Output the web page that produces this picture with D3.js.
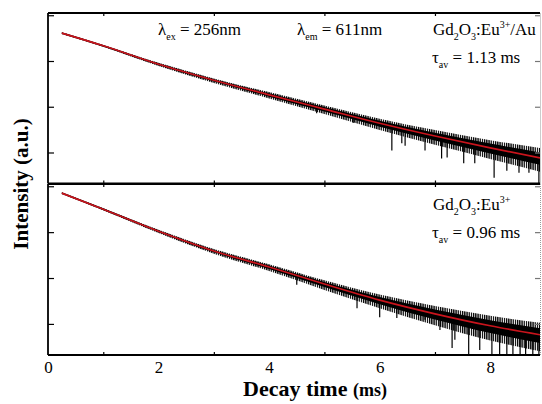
<!DOCTYPE html>
<html>
<head>
<meta charset="utf-8">
<title>Decay curves</title>
<script src="https://d3js.org/d3.v7.min.js"></script>
<style>
	body {margin: 0; background: #fff;}
	text {font-family: "Liberation Serif", "Times New Roman", serif; fill: #000;}
</style>
</head>
<body>
<div id="main"></div>
<script type="text/javascript">
	var screenWidth  = 542;
	var screenHeight = 404;
	var plotLeft  = 48, plotRight = 540;
	var topPanel  = {top: 13,  bottom: 183.5};
	var botPanel  = {top: 184, bottom: 355};

	// time grid (ms) where the fitted curves were read
	var timeMs     = [0.25, 1, 2, 3, 4, 5, 6, 7, 8, 8.9];
	// fitted intensity (a.u.), Gd2O3:Eu3+/Au and Gd2O3:Eu3+
	var fitAu      = [4070, 2150, 850, 380, 182, 89, 43.6, 22.9, 12.6, 7.6];
	var fitBare    = [7080, 3160, 1047, 389, 174, 74, 33, 16.6, 9.1, 5.8];
	// spread of the measured data round the fit, in decades
	var noiseUpAu    = [0.02, 0.02, 0.03, 0.04, 0.06, 0.08, 0.10, 0.13, 0.17, 0.22];
	var noiseDownAu  = [0.02, 0.02, 0.04, 0.06, 0.08, 0.11, 0.15, 0.19, 0.24, 0.30];
	var noiseUpBare  = [0.02, 0.02, 0.03, 0.04, 0.06, 0.08, 0.12, 0.17, 0.22, 0.26];
	var noiseDownBare= [0.02, 0.02, 0.04, 0.06, 0.09, 0.13, 0.18, 0.25, 0.32, 0.36];
	// deep downward spikes of the data: time (ms) and lowest intensity
	var spikeTimeAu  = [4.86, 5.52, 6.22, 6.40, 6.46, 6.82, 7.12, 7.22, 7.52, 7.72, 8.07, 8.30, 8.52, 8.70, 8.88];
	var spikeLowAu   = [72, 44, 11, 16, 14, 11, 7.4, 7.8, 5.8, 5.8, 2.8, 4.0, 3.6, 3.6, 2.1];
	var spikeTimeBare= [4.50, 5.59, 6.00, 6.31, 6.82, 7.09, 7.31, 7.36, 7.61, 7.81, 8.03, 8.17, 8.30, 8.41, 8.54, 8.64, 8.77, 8.88];
	var spikeLowBare = [71, 22, 14, 13.5, 12.3, 7.4, 3.0, 4.5, 2.1, 2.7, 2.1, 2.1, 2.1, 2.1, 2.1, 2.1, 2.1, 2.1];

	var xMajorTicks = [0, 2, 4, 6, 8];
	var xMinorTicks = [1, 3, 5, 7];
	var yDomain     = [2.1, 11200];

	var xScale = d3.scaleLinear().domain([0, 8.9]).range([plotLeft, plotRight]);

	var svg = d3.select("#main").append("svg")
		.attr("width", screenWidth)
		.attr("height", screenHeight);

	var defs = svg.append("defs");
	defs.append("clipPath").attr("id", "clipAll")
		.append("rect").attr("x", plotLeft).attr("y", topPanel.top)
		.attr("width", plotRight - plotLeft).attr("height", botPanel.bottom - topPanel.top);
	// vertical hatching, looks like dense noisy data
	var hatch = defs.append("pattern").attr("id", "hatch")
		.attr("patternUnits", "userSpaceOnUse").attr("width", 2.2).attr("height", 4);
	hatch.append("rect").attr("x", 0).attr("y", 0).attr("width", 1.3).attr("height", 4).attr("fill", "#000");

	function drawPanel(panel, fit, up, down, spikeT, spikeLow, showLabels) {
		var yScale = d3.scaleLog().domain(yDomain).range([panel.bottom, panel.top]);
		var logFit = d3.scaleLinear().domain(timeMs).range(fit.map(v => Math.log10(v)));
		var g = svg.append("g").attr("clip-path", "url(#clipAll)");

		var rows = timeMs.map((t, i) => ({t: t, fit: fit[i], up: up[i], down: down[i]}));

		// measured data: hatched outer band and solid core
		var outer = d3.area()
			.x(d => xScale(d.t))
			.y0(d => yScale(d.fit / Math.pow(10, d.down)))
			.y1(d => yScale(d.fit * Math.pow(10, d.up)))
			.curve(d3.curveMonotoneX);
		var core = d3.area()
			.x(d => xScale(d.t))
			.y0(d => yScale(d.fit / Math.pow(10, Math.max(0.02, d.down * 0.5))))
			.y1(d => yScale(d.fit * Math.pow(10, Math.max(0.02, d.up * 0.55))))
			.curve(d3.curveMonotoneX);
		g.append("path").datum(rows).attr("d", outer).attr("fill", "url(#hatch)");
		g.append("path").datum(rows).attr("d", core).attr("fill", "#000");

		// spikes
		g.selectAll(".spike").data(spikeT).enter().append("line")
			.attr("x1", d => xScale(d)).attr("x2", d => xScale(d))
			.attr("y1", d => yScale(Math.pow(10, logFit(d))))
			.attr("y2", (d, i) => yScale(spikeLow[i]))
			.attr("stroke", "#000").attr("stroke-width", 1.2);

		// fit
		var line = d3.line()
			.x(d => xScale(d.t))
			.y(d => yScale(d.fit))
			.curve(d3.curveMonotoneX);
		g.append("path").datum(rows).attr("d", line)
			.attr("fill", "none").attr("stroke", "#c8141c").attr("stroke-width", 1.7);

		// left axis, ticks inside
		var allTicks = yScale.ticks();
		var majors = allTicks.filter(v => Math.abs(Math.log10(v) - Math.round(Math.log10(v))) < 1e-6);
		var minors = allTicks.filter(v => majors.indexOf(v) < 0);
		var ax = svg.append("g").attr("transform", "translate(" + plotLeft + ",0)");
		ax.call(d3.axisRight(yScale).tickValues(minors).tickSize(3).tickFormat(""));
		ax.call(d3.axisRight(yScale).tickValues(majors).tickSize(6).tickFormat(""));
		ax.select(".domain").remove();

		// right axis
		var ar = svg.append("g").attr("transform", "translate(" + plotRight + ",0)");
		ar.call(d3.axisLeft(yScale).tickValues(majors).tickSize(5).tickFormat(""));
		ar.selectAll("line").attr("stroke", "#777");
		ar.select(".domain").attr("stroke", "#999").attr("stroke-dasharray", "1,1");

		// x ticks, inside, on top and bottom edges
		var at = svg.append("g").attr("transform", "translate(0," + panel.top + ")");
		at.call(d3.axisBottom(xScale).tickValues(xMajorTicks).tickSize(5).tickFormat(""));
		at.call(d3.axisBottom(xScale).tickValues(xMinorTicks).tickSize(3).tickFormat(""));
		at.select(".domain").remove();
		var ab = svg.append("g").attr("transform", "translate(0," + panel.bottom + ")");
		ab.call(d3.axisTop(xScale).tickValues(xMajorTicks).tickSize(5).tickFormat(""));
		ab.call(d3.axisTop(xScale).tickValues(xMinorTicks).tickSize(3).tickFormat(""));
		ab.select(".domain").remove();
		svg.selectAll(".tick line").attr("stroke-width", 1.2);

		if (showLabels) {
			var lab = svg.append("g").attr("transform", "translate(0," + panel.bottom + ")");
			lab.call(d3.axisBottom(xScale).tickValues(xMajorTicks).tickSize(0).tickPadding(6));
			lab.select(".domain").remove();
			lab.selectAll("text").style("font-size", "17px")
				.style("font-family", "'Liberation Serif', serif").attr("fill", "#000");
		}

		// frame
		svg.append("line").attr("x1", plotLeft).attr("x2", plotLeft)
			.attr("y1", panel.top).attr("y2", panel.bottom)
			.attr("stroke", "#000").attr("stroke-width", 1.8);
		svg.append("line").attr("x1", plotLeft).attr("x2", plotRight)
			.attr("y1", panel.top).attr("y2", panel.top)
			.attr("stroke", "#000").attr("stroke-width", 1.8);
		svg.append("line").attr("x1", plotLeft).attr("x2", plotRight)
			.attr("y1", panel.bottom).attr("y2", panel.bottom)
			.attr("stroke", "#000").attr("stroke-width", 1.8);
	}

	drawPanel(topPanel, fitAu, noiseUpAu, noiseDownAu, spikeTimeAu, spikeLowAu, false);
	drawPanel(botPanel, fitBare, noiseUpBare, noiseDownBare, spikeTimeBare, spikeLowBare, true);

	// annotations
	function addText(x, y, parts) {
		var t = svg.append("text").attr("x", x).attr("y", y).style("font-size", "17px");
		parts.forEach(function(p) {
			var s = t.append("tspan").text(p[0]);
			if (p[1] == "sub") s.style("font-size", "10px").attr("dy", 5);
			if (p[1] == "sup") s.style("font-size", "10px").attr("dy", -7);
			if (p[1] == "subEnd") s.attr("dy", -5);
			if (p[1] == "supEnd") s.attr("dy", 7);
		});
	}
	addText(158, 35, [["\u03bb"], ["ex", "sub"], [" = 256nm", "subEnd"]]);
	addText(297, 35, [["\u03bb"], ["em", "sub"], [" = 611nm", "subEnd"]]);
	addText(433, 35, [["Gd"], ["2", "sub"], ["O", "subEnd"], ["3", "sub"], [":Eu", "subEnd"], ["3+", "sup"], ["/Au", "supEnd"]]);
	addText(432, 63, [["\u03c4"], ["av", "sub"], [" = 1.13 ms", "subEnd"]]);
	addText(433, 210, [["Gd"], ["2", "sub"], ["O", "subEnd"], ["3", "sub"], [":Eu", "subEnd"], ["3+", "sup"]]);
	addText(432, 238, [["\u03c4"], ["av", "sub"], [" = 0.96 ms", "subEnd"]]);

	// axis titles
	var xt = svg.append("text").attr("x", 315).attr("y", 396)
		.attr("text-anchor", "middle").style("font-weight", "bold").style("font-size", "22px");
	xt.append("tspan").text("Decay time ");
	xt.append("tspan").text("(ms)").style("font-size", "18px");

	svg.append("text").attr("transform", "translate(28,184) rotate(-90)")
		.attr("text-anchor", "middle").style("font-weight", "bold").style("font-size", "21px")
		.text("Intensity (a.u.)");
</script>
</body>
</html>
